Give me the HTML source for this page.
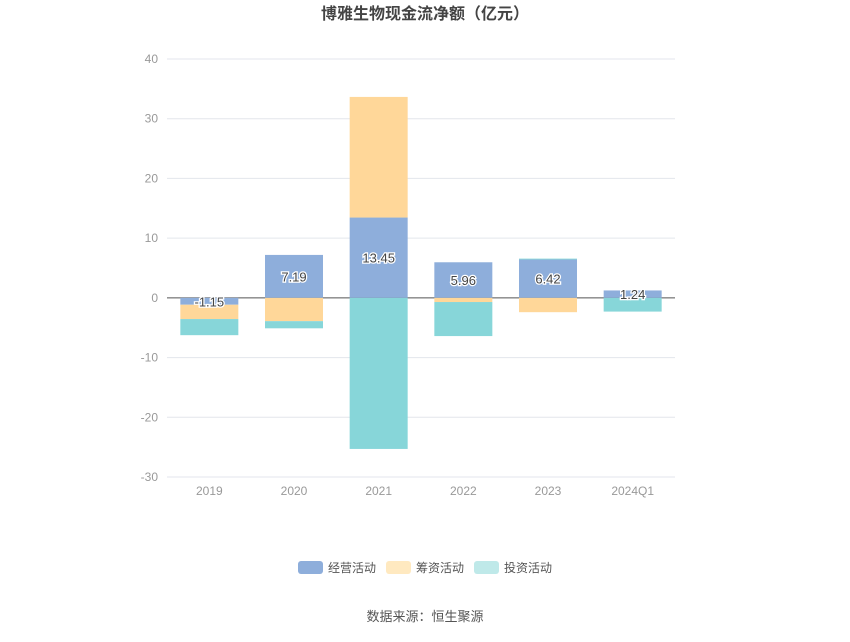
<!DOCTYPE html>
<html><head><meta charset="utf-8"><style>
body{margin:0;background:#fff;width:850px;height:637px;overflow:hidden;font-family:"Liberation Sans","Noto Sans CJK SC",sans-serif}
</style></head><body>
<svg id="c" width="850" height="637" xmlns="http://www.w3.org/2000/svg">
<text x="425" y="19" text-anchor="middle" font-size="16" font-weight="bold" fill="#444" font-family="Liberation Sans,Noto Sans CJK SC,sans-serif">博雅生物现金流净额（亿元）</text>
<g id="grid"></g><g id="bars"></g><g id="labels"></g>
<g font-size="12" fill="#555" font-family="Liberation Sans,Noto Sans CJK SC,sans-serif">
<g><rect x="298" y="561" width="25" height="13" rx="3" fill="#8eaedb"/><text x="328" y="572">经营活动</text></g>
<g><rect x="386" y="561" width="25" height="13" rx="3" fill="#ffe9c0"/><text x="416" y="572">筹资活动</text></g>
<g><rect x="474" y="561" width="25" height="13" rx="3" fill="#bfe9e9"/><text x="504" y="572">投资活动</text></g>
</g>
<text x="425" y="621" text-anchor="middle" font-size="13" fill="#555" font-family="Liberation Sans,Noto Sans CJK SC,sans-serif">数据来源：恒生聚源</text>
</svg>
<script>
const categories=["2019","2020","2021","2022","2023","2024Q1"];
const operating=[-1.15,7.19,13.45,5.96,6.42,1.24];
const financing=[-2.4,-3.9,20.2,-0.7,-2.4,0];
const investing=[-2.7,-1.2,-25.3,-5.7,0.15,-2.3];
const yTicks=[40,30,20,10,0,-10,-20,-30];
const NS="http://www.w3.org/2000/svg";
const x0=167,x1=675,yTop=59,yBot=477,yMax=40,yMin=-30;
const Y=v=>yTop+(yMax-v)/(yMax-yMin)*(yBot-yTop);
const bw=(x1-x0)/categories.length;
const X=i=>x0+bw*(i+0.5);
function mk(t,a,p){const e=document.createElementNS(NS,t);for(const k in a)e.setAttribute(k,a[k]);p.appendChild(e);return e;}
const grid=document.getElementById('grid');
yTicks.forEach(v=>{
 const l=mk('line',{x1:x0,x2:x1,y1:Y(v),y2:Y(v),stroke:v===0?'#555':'#e3e6ec','stroke-width':1},grid);
 
 
 const t=mk('text',{x:158,y:Y(v)+4,'text-anchor':'end','font-size':12,fill:'#999'},grid);
 t.textContent=v;
 
 
});
categories.forEach((c,i)=>{
 const t=mk('text',{x:X(i),y:495,'text-anchor':'middle','font-size':12,fill:'#999'},grid);
 t.textContent=c;
 
 
});
const bars=document.getElementById('bars'),labels=document.getElementById('labels');
const series=[[operating,'#8eaedb','operating'],[financing,'#ffd799','financing'],[investing,'#87d6d9','investing']];
categories.forEach((c,i)=>{
 let pos=0,neg=0;
 series.forEach(([arr,col,nm])=>{
  const v=arr[i];if(!v)return;
  let a,b;
  if(v>=0){a=pos;b=pos+v;pos=b;}else{a=neg;b=neg+v;neg=b;}
  const r=mk('rect',{x:X(i)-29,width:58,y:Math.min(Y(a),Y(b)),height:Math.abs(Y(a)-Y(b)),fill:col},bars);
  
  
 });
 const v=operating[i];
 const t=mk('text',{x:X(i),y:(Y(0)+Y(v))/2+5,'text-anchor':'middle','font-size':13,fill:'#444',stroke:'#fff','stroke-width':2.5,'paint-order':'stroke'},labels);
 t.textContent=v.toFixed(2);
 
 
});
</script>
</body></html>
